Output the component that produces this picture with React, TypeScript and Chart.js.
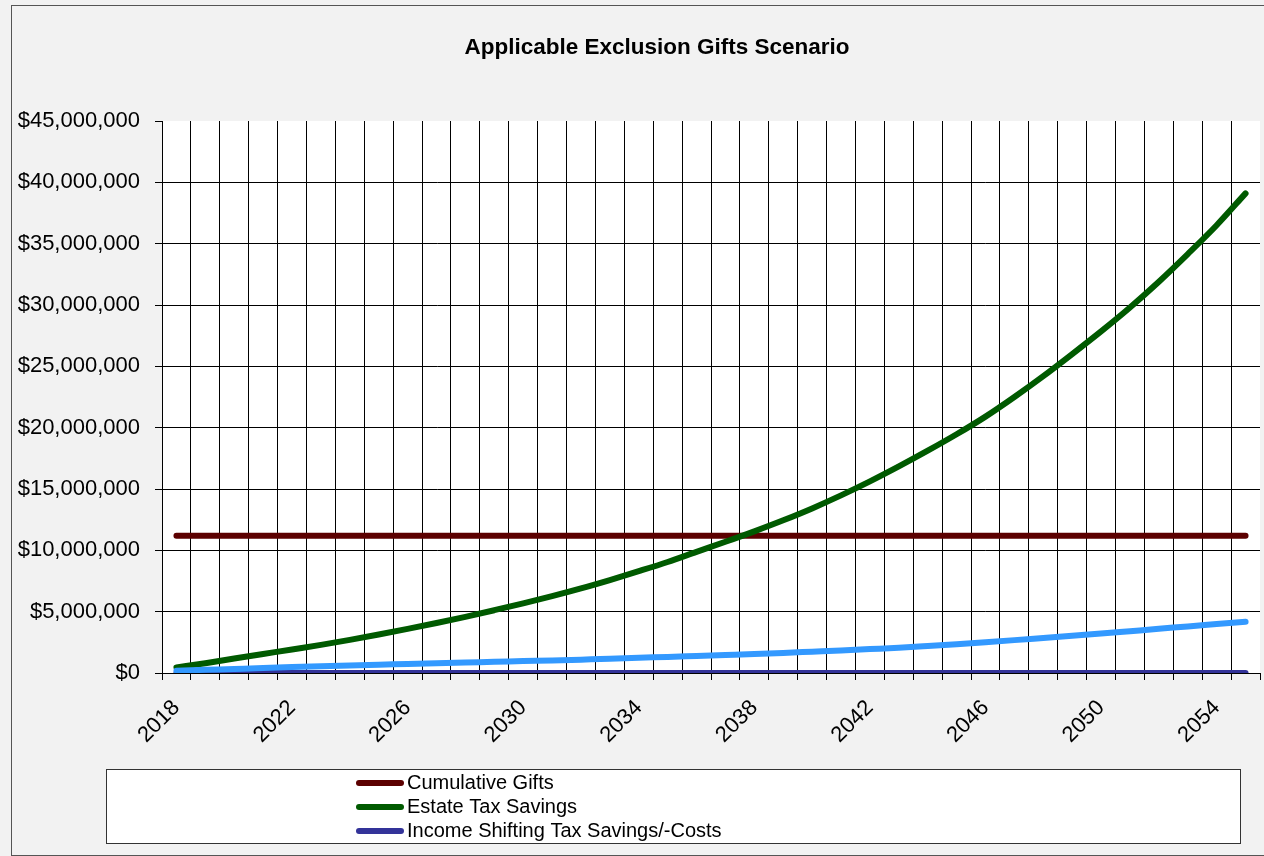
import React, { useEffect, useRef } from "react";
import { Chart, registerables } from "chart.js";

Chart.register(...registerables);

const chartTitle = "Applicable Exclusion Gifts Scenario";

const years = [
  "2018", "2019", "2020", "2021", "2022", "2023", "2024", "2025", "2026", "2027",
  "2028", "2029", "2030", "2031", "2032", "2033", "2034", "2035", "2036", "2037",
  "2038", "2039", "2040", "2041", "2042", "2043", "2044", "2045", "2046", "2047",
  "2048", "2049", "2050", "2051", "2052", "2053", "2054", "2055",
];

const cumulativeGifts = [
  11180000, 11180000, 11180000, 11180000, 11180000, 11180000, 11180000, 11180000,
  11180000, 11180000, 11180000, 11180000, 11180000, 11180000, 11180000, 11180000,
  11180000, 11180000, 11180000, 11180000, 11180000, 11180000, 11180000, 11180000,
  11180000, 11180000, 11180000, 11180000, 11180000, 11180000, 11180000, 11180000,
  11180000, 11180000, 11180000, 11180000, 11180000, 11180000,
];

const estateTaxSavings = [
  450000, 800000, 1180000, 1550000, 1920000, 2290000, 2700000, 3140000, 3600000, 4080000,
  4580000, 5120000, 5680000, 6270000, 6900000, 7580000, 8300000, 9050000, 9880000, 10700000,
  11550000, 12450000, 13420000, 14480000, 15620000, 16840000, 18120000, 19460000, 20900000, 22500000,
  24200000, 26000000, 27850000, 29800000, 31900000, 34150000, 36500000, 39100000,
];

const incomeShiftingSavings = [
  0, 0, 0, 0, 0, 0, 0, 0, 0, 0,
  0, 0, 0, 0, 0, 0, 0, 0, 0, 0,
  0, 0, 0, 0, 0, 0, 0, 0, 0, 0,
  0, 0, 0, 0, 0, 0, 0, 0,
];

const unlabeledSeries = [
  190000, 260000, 330000, 400000, 480000, 550000, 610000, 670000, 740000, 800000,
  860000, 910000, 970000, 1020000, 1090000, 1160000, 1240000, 1310000, 1390000, 1470000,
  1550000, 1640000, 1740000, 1840000, 1950000, 2060000, 2200000, 2350000, 2510000, 2680000,
  2860000, 3040000, 3220000, 3410000, 3600000, 3800000, 3990000, 4180000,
];

const seriesNames = ["Cumulative Gifts", "Estate Tax Savings", "Income Shifting Tax Savings/-Costs"];
const seriesColors = ["#5c0000", "#005a00", "#333399", "#3399ff"];

const FONT = '"Liberation Sans", Arial, Helvetica, sans-serif';

const fmtMoney = (v: number) => "$" + Math.round(v).toLocaleString("en-US");

const chromePlugin = {
  id: "chrome",
  beforeDraw(chart: any) {
    const { ctx, chartArea: a, width, height } = chart;
    ctx.save();
    ctx.fillStyle = "#f2f2f2";
    ctx.fillRect(0, 0, width, height);
    ctx.strokeStyle = "#555555";
    ctx.lineWidth = 1;
    ctx.strokeRect(11.5, 5.5, width + 10, height - 6);
    ctx.fillStyle = "#ffffff";
    ctx.fillRect(a.left, a.top, a.right - a.left, a.bottom - a.top);
    ctx.fillStyle = "#000000";
    ctx.font = `bold 22.5px ${FONT}`;
    ctx.textAlign = "center";
    ctx.textBaseline = "middle";
    ctx.fillText(chartTitle, 657, 48);
    ctx.restore();
  },
  afterDraw(chart: any) {
    const { ctx } = chart;
    ctx.save();
    ctx.fillStyle = "#ffffff";
    ctx.fillRect(106.5, 769.5, 1134, 74);
    ctx.strokeStyle = "#333333";
    ctx.lineWidth = 1;
    ctx.strokeRect(106.5, 769.5, 1134, 74);
    const items = chart.data.datasets.filter((d: any) => d.inLegend);
    items.forEach((d: any, i: number) => {
      const y = 783 + i * 24;
      ctx.strokeStyle = d.borderColor;
      ctx.lineWidth = 6;
      ctx.lineCap = "round";
      ctx.beginPath();
      ctx.moveTo(359, y);
      ctx.lineTo(401, y);
      ctx.stroke();
      ctx.fillStyle = "#000000";
      ctx.font = `20px ${FONT}`;
      ctx.textAlign = "left";
      ctx.textBaseline = "middle";
      ctx.fillText(d.label, 407, y);
    });
    ctx.restore();
  },
};

export default function App() {
  const ref = useRef<HTMLCanvasElement | null>(null);

  useEffect(() => {
    if (!ref.current) return;
    const mk = (label: string, data: number[], color: string, order: number, inLegend: boolean) => ({
      label,
      data,
      borderColor: color,
      backgroundColor: color,
      borderWidth: 6,
      borderCapStyle: "round",
      borderJoinStyle: "round",
      pointRadius: 0,
      cubicInterpolationMode: "monotone",
      fill: false,
      order,
      inLegend,
    });
    const chart = new Chart(ref.current, {
      type: "line",
      data: {
        labels: years,
        datasets: [
          mk(seriesNames[0], cumulativeGifts, seriesColors[0], 4, true),
          mk(seriesNames[1], estateTaxSavings, seriesColors[1], 3, true),
          mk(seriesNames[2], incomeShiftingSavings, seriesColors[2], 2, true),
          mk("", unlabeledSeries, seriesColors[3], 1, false),
        ] as any,
      },
      options: {
        animation: false,
        responsive: false,
        events: [],
        layout: { padding: { top: 121, right: 4, bottom: 86, left: 0 } },
        plugins: {
          legend: { display: false },
          title: { display: false },
          tooltip: { enabled: false },
        },
        scales: {
          x: {
            offset: true,
            grid: {
              offset: true,
              color: (c: any) => (c.index === undefined ? "rgba(0,0,0,0)" : "#000000"),
              tickColor: "#000000",
              tickLength: 7,
              lineWidth: 1,
            },
            border: { color: "#000000" },
            ticks: {
              autoSkip: false,
              minRotation: 45,
              maxRotation: 45,
              padding: 15,
              color: "#000000",
              font: { family: FONT, size: 22 },
              callback: (_v: any, i: number) => (i % 4 === 0 ? years[i] : ""),
            },
            afterFit: (s: any) => {
              s.height = 97;
              s.paddingLeft = 0;
              s.paddingRight = 0;
            },
          },
          y: {
            min: 0,
            max: 45000000,
            grid: {
              color: (c: any) => (c.tick && c.tick.value === 45000000 ? "rgba(0,0,0,0)" : "#000000"),
              tickColor: "#000000",
              tickLength: 7,
              lineWidth: 1,
            },
            border: { color: "#000000" },
            ticks: {
              stepSize: 5000000,
              padding: 15,
              color: "#000000",
              font: { family: FONT, size: 22 },
              callback: (v: any) => fmtMoney(Number(v)),
            },
            afterFit: (s: any) => {
              s.width = 162;
            },
          },
        },
      } as any,
      plugins: [chromePlugin],
    });
    return () => chart.destroy();
  }, []);

  return (
    <div style={{ position: "fixed", left: 0, top: 0, width: 1264, height: 856 }}>
      <canvas ref={ref} width={1264} height={856} style={{ display: "block", width: 1264, height: 856 }} />
    </div>
  );
}
